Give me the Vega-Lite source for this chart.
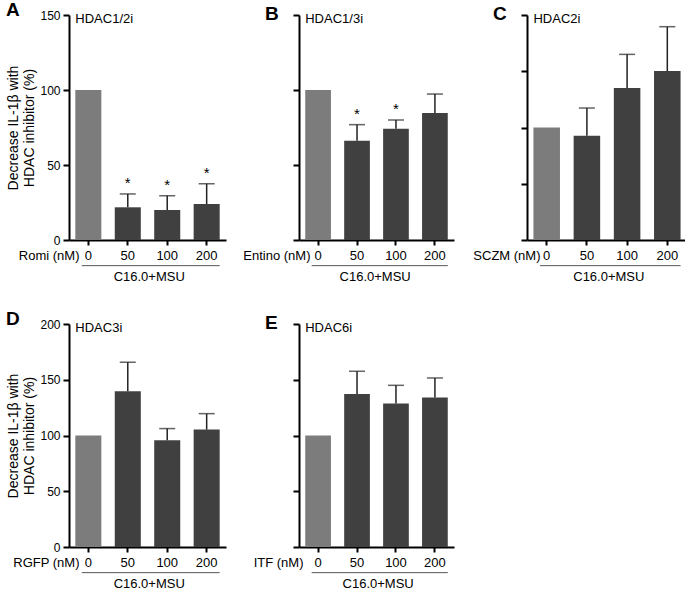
{
  "$schema": "https://vega.github.io/schema/vega-lite/v6.json",
  "padding": {"left": 6, "top": 1, "right": 0, "bottom": 0},
  "background": "white",
  "datasets": {
    "d": [
      {"panel": "A", "dose": "0", "mean": 100, "label": "HDAC1/2i"},
      {"panel": "A", "dose": "50", "mean": 21.8, "err": 30.7, "sig": true},
      {"panel": "A", "dose": "100", "mean": 20, "err": 29.5, "sig": true},
      {"panel": "A", "dose": "200", "mean": 24, "err": 37.5, "sig": true},
      {"panel": "B", "dose": "0", "mean": 100, "label": "HDAC1/3i"},
      {"panel": "B", "dose": "50", "mean": 66.2, "err": 76.9, "sig": true},
      {"panel": "B", "dose": "100", "mean": 74.2, "err": 80, "sig": true},
      {"panel": "B", "dose": "200", "mean": 84.7, "err": 97.3},
      {"panel": "C", "dose": "0", "mean": 100, "label": "HDAC2i"},
      {"panel": "C", "dose": "50", "mean": 92.7, "err": 117.3},
      {"panel": "C", "dose": "100", "mean": 135.1, "err": 165},
      {"panel": "C", "dose": "200", "mean": 150.2, "err": 189.6},
      {"panel": "D", "dose": "0", "mean": 100, "label": "HDAC3i"},
      {"panel": "D", "dose": "50", "mean": 139.7, "err": 165.7},
      {"panel": "D", "dose": "100", "mean": 95.8, "err": 106.2},
      {"panel": "D", "dose": "200", "mean": 105.3, "err": 119.6},
      {"panel": "E", "dose": "0", "mean": 100, "label": "HDAC6i"},
      {"panel": "E", "dose": "50", "mean": 137.2, "err": 157.6},
      {"panel": "E", "dose": "100", "mean": 128.6, "err": 145},
      {"panel": "E", "dose": "200", "mean": 134, "err": 151.6}
    ]
  },
  "data": {"name": "d"},
  "columns": 3,
  "spacing": {"row": 84, "column": 73},
  "bounds": "flush",
  "concat": [
    {
      "width": 157, "height": 225,
      "title": {"text": "A", "dx": -63},
      "transform": [{"filter": "datum.panel === 'A'"}],
      "layer": [
        {"mark": {"type": "bar"}, "encoding": {
          "x": {"field": "dose", "type": "nominal", "scale": {"domain": ["0", "50", "100", "200"], "paddingInner": 0.34, "paddingOuter": 0.16}, "axis": {"title": "Romi (nM)", "titleX": 10}},
          "y": {"field": "mean", "type": "quantitative", "scale": {"domain": [0, 150], "nice": false}, "axis": {"values": [0, 50, 100, 150], "title": ["Decrease IL-1β with", "HDAC inhibitor (%)"], "titleFontSize": 14, "titleLineHeight": 16, "titlePadding": 3}},
          "color": {"field": "dose", "type": "nominal", "scale": {"domain": ["0", "50", "100", "200"], "range": ["#7c7c7c", "#404040", "#404040", "#404040"]}, "legend": null}}},
        {"transform": [{"filter": "datum.err != null"}], "mark": {"type": "rule", "color": "#222", "strokeWidth": 1.5}, "encoding": {"x": {"field": "dose", "type": "nominal"}, "y": {"field": "mean", "type": "quantitative"}, "y2": {"field": "err"}}},
        {"transform": [{"filter": "datum.err != null"}], "mark": {"type": "tick", "color": "#222", "thickness": 1.5, "size": 16}, "encoding": {"x": {"field": "dose", "type": "nominal"}, "y": {"field": "err", "type": "quantitative"}}},
        {"transform": [{"filter": "datum.sig"}], "mark": {"type": "text", "text": "*", "fontSize": 15, "dy": -6, "baseline": "alphabetic"}, "encoding": {"x": {"field": "dose", "type": "nominal"}, "y": {"field": "err", "type": "quantitative"}}},
        {"transform": [{"filter": "datum.dose === '0'"}], "mark": {"type": "text", "align": "left", "baseline": "top", "fontSize": 13, "dy": -2}, "encoding": {"x": {"datum": "0", "type": "nominal", "bandPosition": 0}, "y": {"datum": 150, "type": "quantitative"}, "text": {"field": "label"}}},
        {"transform": [{"filter": "datum.dose === '0'"}], "mark": {"type": "rule", "color": "#555", "strokeWidth": 1}, "encoding": {"x": {"datum": "0", "type": "nominal", "bandPosition": 0.25}, "x2": {"datum": "200", "bandPosition": 1}, "y": {"datum": -17.1, "type": "quantitative"}}},
        {"transform": [{"filter": "datum.dose === '0'"}], "mark": {"type": "text", "text": "C16.0+MSU", "fontSize": 13, "baseline": "middle", "dx": -5}, "encoding": {"x": {"datum": "100", "type": "nominal", "bandPosition": 0}, "y": {"datum": -24.5, "type": "quantitative"}}}
      ]
    },
    {
      "width": 155, "height": 225,
      "title": {"text": "B", "dx": -34},
      "transform": [{"filter": "datum.panel === 'B'"}],
      "layer": [
        {"mark": {"type": "bar"}, "encoding": {
          "x": {"field": "dose", "type": "nominal", "scale": {"domain": ["0", "50", "100", "200"], "paddingInner": 0.34, "paddingOuter": 0.16}, "axis": {"title": "Entino (nM)", "titleX": 11}},
          "y": {"field": "mean", "type": "quantitative", "scale": {"domain": [0, 150], "nice": false}, "axis": {"values": [0, 50, 100, 150], "labels": false, "title": null}},
          "color": {"field": "dose", "type": "nominal", "scale": {"domain": ["0", "50", "100", "200"], "range": ["#7c7c7c", "#404040", "#404040", "#404040"]}, "legend": null}}},
        {"transform": [{"filter": "datum.err != null"}], "mark": {"type": "rule", "color": "#222", "strokeWidth": 1.5}, "encoding": {"x": {"field": "dose", "type": "nominal"}, "y": {"field": "mean", "type": "quantitative"}, "y2": {"field": "err"}}},
        {"transform": [{"filter": "datum.err != null"}], "mark": {"type": "tick", "color": "#222", "thickness": 1.5, "size": 16}, "encoding": {"x": {"field": "dose", "type": "nominal"}, "y": {"field": "err", "type": "quantitative"}}},
        {"transform": [{"filter": "datum.sig"}], "mark": {"type": "text", "text": "*", "fontSize": 15, "dy": -6, "baseline": "alphabetic"}, "encoding": {"x": {"field": "dose", "type": "nominal"}, "y": {"field": "err", "type": "quantitative"}}},
        {"transform": [{"filter": "datum.dose === '0'"}], "mark": {"type": "text", "align": "left", "baseline": "top", "fontSize": 13, "dy": -2}, "encoding": {"x": {"datum": "0", "type": "nominal", "bandPosition": 0}, "y": {"datum": 150, "type": "quantitative"}, "text": {"field": "label"}}},
        {"transform": [{"filter": "datum.dose === '0'"}], "mark": {"type": "rule", "color": "#555", "strokeWidth": 1}, "encoding": {"x": {"datum": "0", "type": "nominal", "bandPosition": 0.25}, "x2": {"datum": "200", "bandPosition": 1}, "y": {"datum": -17.1, "type": "quantitative"}}},
        {"transform": [{"filter": "datum.dose === '0'"}], "mark": {"type": "text", "text": "C16.0+MSU", "fontSize": 13, "baseline": "middle", "dx": -8}, "encoding": {"x": {"datum": "100", "type": "nominal", "bandPosition": 0}, "y": {"datum": -24.5, "type": "quantitative"}}}
      ]
    },
    {
      "width": 160, "height": 225,
      "title": {"text": "C", "dx": -34},
      "transform": [{"filter": "datum.panel === 'C'"}],
      "layer": [
        {"mark": {"type": "bar"}, "encoding": {
          "x": {"field": "dose", "type": "nominal", "scale": {"domain": ["0", "50", "100", "200"], "paddingInner": 0.34, "paddingOuter": 0.16}, "axis": {"title": "SCZM (nM)", "titleX": 13}},
          "y": {"field": "mean", "type": "quantitative", "scale": {"domain": [0, 200], "nice": false}, "axis": {"values": [0, 50, 100, 150, 200], "labels": false, "title": null}},
          "color": {"field": "dose", "type": "nominal", "scale": {"domain": ["0", "50", "100", "200"], "range": ["#7c7c7c", "#404040", "#404040", "#404040"]}, "legend": null}}},
        {"transform": [{"filter": "datum.err != null"}], "mark": {"type": "rule", "color": "#222", "strokeWidth": 1.5}, "encoding": {"x": {"field": "dose", "type": "nominal"}, "y": {"field": "mean", "type": "quantitative"}, "y2": {"field": "err"}}},
        {"transform": [{"filter": "datum.err != null"}], "mark": {"type": "tick", "color": "#222", "thickness": 1.5, "size": 16}, "encoding": {"x": {"field": "dose", "type": "nominal"}, "y": {"field": "err", "type": "quantitative"}}},
        {"transform": [{"filter": "datum.dose === '0'"}], "mark": {"type": "text", "align": "left", "baseline": "top", "fontSize": 13, "dy": -2}, "encoding": {"x": {"datum": "0", "type": "nominal", "bandPosition": 0}, "y": {"datum": 200, "type": "quantitative"}, "text": {"field": "label"}}},
        {"transform": [{"filter": "datum.dose === '0'"}], "mark": {"type": "rule", "color": "#555", "strokeWidth": 1}, "encoding": {"x": {"datum": "0", "type": "nominal", "bandPosition": 0.25}, "x2": {"datum": "200", "bandPosition": 1}, "y": {"datum": -22.8, "type": "quantitative"}}},
        {"transform": [{"filter": "datum.dose === '0'"}], "mark": {"type": "text", "text": "C16.0+MSU", "fontSize": 13, "baseline": "middle", "dx": -5}, "encoding": {"x": {"datum": "100", "type": "nominal", "bandPosition": 0}, "y": {"datum": -32.6, "type": "quantitative"}}}
      ]
    },
    {
      "width": 157, "height": 223,
      "title": {"text": "D", "dx": -63},
      "transform": [{"filter": "datum.panel === 'D'"}],
      "layer": [
        {"mark": {"type": "bar"}, "encoding": {
          "x": {"field": "dose", "type": "nominal", "scale": {"domain": ["0", "50", "100", "200"], "paddingInner": 0.34, "paddingOuter": 0.16}, "axis": {"title": "RGFP (nM)", "titleX": 10}},
          "y": {"field": "mean", "type": "quantitative", "scale": {"domain": [0, 200], "nice": false}, "axis": {"values": [0, 50, 100, 150, 200], "title": ["Decrease IL-1β with", "HDAC inhibitor (%)"], "titleFontSize": 14, "titleLineHeight": 16, "titlePadding": 3}},
          "color": {"field": "dose", "type": "nominal", "scale": {"domain": ["0", "50", "100", "200"], "range": ["#7c7c7c", "#404040", "#404040", "#404040"]}, "legend": null}}},
        {"transform": [{"filter": "datum.err != null"}], "mark": {"type": "rule", "color": "#222", "strokeWidth": 1.5}, "encoding": {"x": {"field": "dose", "type": "nominal"}, "y": {"field": "mean", "type": "quantitative"}, "y2": {"field": "err"}}},
        {"transform": [{"filter": "datum.err != null"}], "mark": {"type": "tick", "color": "#222", "thickness": 1.5, "size": 16}, "encoding": {"x": {"field": "dose", "type": "nominal"}, "y": {"field": "err", "type": "quantitative"}}},
        {"transform": [{"filter": "datum.dose === '0'"}], "mark": {"type": "text", "align": "left", "baseline": "top", "fontSize": 13, "dy": -2}, "encoding": {"x": {"datum": "0", "type": "nominal", "bandPosition": 0}, "y": {"datum": 200, "type": "quantitative"}, "text": {"field": "label"}}},
        {"transform": [{"filter": "datum.dose === '0'"}], "mark": {"type": "rule", "color": "#555", "strokeWidth": 1}, "encoding": {"x": {"datum": "0", "type": "nominal", "bandPosition": 0.25}, "x2": {"datum": "200", "bandPosition": 1}, "y": {"datum": -23, "type": "quantitative"}}},
        {"transform": [{"filter": "datum.dose === '0'"}], "mark": {"type": "text", "text": "C16.0+MSU", "fontSize": 13, "baseline": "middle", "dx": -5}, "encoding": {"x": {"datum": "100", "type": "nominal", "bandPosition": 0}, "y": {"datum": -32.9, "type": "quantitative"}}}
      ]
    },
    {
      "width": 155, "height": 223,
      "title": {"text": "E", "dx": -34},
      "transform": [{"filter": "datum.panel === 'E'"}],
      "layer": [
        {"mark": {"type": "bar"}, "encoding": {
          "x": {"field": "dose", "type": "nominal", "scale": {"domain": ["0", "50", "100", "200"], "paddingInner": 0.34, "paddingOuter": 0.16}, "axis": {"title": "ITF (nM)", "titleX": 4}},
          "y": {"field": "mean", "type": "quantitative", "scale": {"domain": [0, 200], "nice": false}, "axis": {"values": [0, 50, 100, 150, 200], "labels": false, "title": null}},
          "color": {"field": "dose", "type": "nominal", "scale": {"domain": ["0", "50", "100", "200"], "range": ["#7c7c7c", "#404040", "#404040", "#404040"]}, "legend": null}}},
        {"transform": [{"filter": "datum.err != null"}], "mark": {"type": "rule", "color": "#222", "strokeWidth": 1.5}, "encoding": {"x": {"field": "dose", "type": "nominal"}, "y": {"field": "mean", "type": "quantitative"}, "y2": {"field": "err"}}},
        {"transform": [{"filter": "datum.err != null"}], "mark": {"type": "tick", "color": "#222", "thickness": 1.5, "size": 16}, "encoding": {"x": {"field": "dose", "type": "nominal"}, "y": {"field": "err", "type": "quantitative"}}},
        {"transform": [{"filter": "datum.dose === '0'"}], "mark": {"type": "text", "align": "left", "baseline": "top", "fontSize": 13, "dy": -2}, "encoding": {"x": {"datum": "0", "type": "nominal", "bandPosition": 0}, "y": {"datum": 200, "type": "quantitative"}, "text": {"field": "label"}}},
        {"transform": [{"filter": "datum.dose === '0'"}], "mark": {"type": "rule", "color": "#555", "strokeWidth": 1}, "encoding": {"x": {"datum": "0", "type": "nominal", "bandPosition": 0.25}, "x2": {"datum": "200", "bandPosition": 1}, "y": {"datum": -23, "type": "quantitative"}}},
        {"transform": [{"filter": "datum.dose === '0'"}], "mark": {"type": "text", "text": "C16.0+MSU", "fontSize": 13, "baseline": "middle", "dx": -5}, "encoding": {"x": {"datum": "100", "type": "nominal", "bandPosition": 0}, "y": {"datum": -32.9, "type": "quantitative"}}}
      ]
    }
  ],
  "config": {
    "font": "Liberation Sans",
    "view": {"stroke": null},
    "title": {"anchor": "start", "frame": "group", "fontSize": 19, "fontWeight": "bold", "color": "#000", "offset": 0, "dy": 15},
    "axis": {"domainColor": "#000", "tickColor": "#000", "labelColor": "#000", "titleColor": "#000", "grid": false, "domainWidth": 2, "tickWidth": 2, "titleFontWeight": "normal", "titleFontSize": 13},
    "axisX": {"labelFontSize": 13, "tickSize": 5, "labelPadding": 4, "labelAngle": 0, "titleAlign": "right", "titleBaseline": "top", "titleY": 9},
    "axisY": {"labelFontSize": 12, "tickSize": 6, "labelPadding": 3},
    "text": {"color": "#000"}
  }
}
